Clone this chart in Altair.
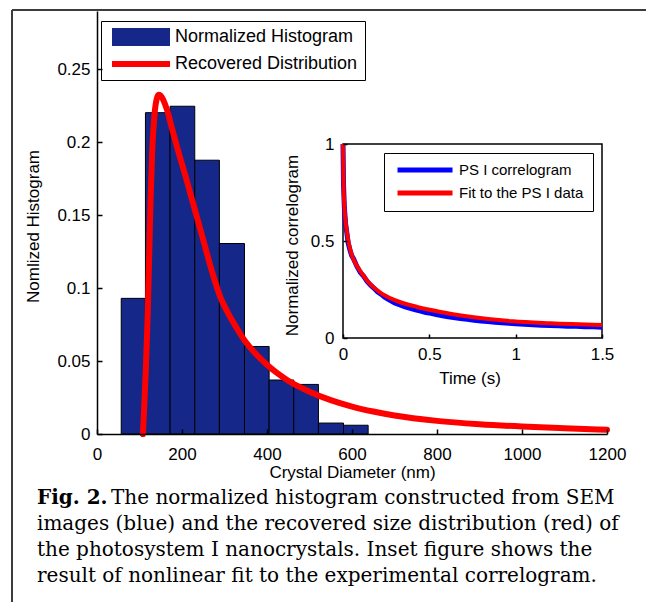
import altair as alt
import pandas as pd

# ---------------- data ----------------
# main histogram (Crystal Diameter, nm)
bin_left = [57, 114, 172, 230, 288, 347, 405, 463, 521, 580]
bin_right = [114, 172, 230, 288, 347, 405, 463, 521, 580, 638]
hist_values = [0.093, 0.2203, 0.2247, 0.1877, 0.1306, 0.060, 0.037, 0.034, 0.0075, 0.006]

# recovered distribution (red curve)
dist_nm = [108, 110, 112, 115, 118, 120, 123, 126, 130, 135, 140, 145, 150, 156, 165,
           176, 190, 210, 230, 250, 270, 290, 310, 330, 350, 375, 400, 425, 450, 500,
           550, 600, 650, 700, 800, 900, 1000, 1100, 1200]
dist_val = [0.0, 0.012, 0.025, 0.045, 0.07, 0.09, 0.125, 0.16, 0.195, 0.218, 0.229,
            0.2325, 0.232, 0.229, 0.222, 0.21, 0.195, 0.175, 0.154, 0.133, 0.112, 0.094,
            0.082, 0.072, 0.063, 0.0545, 0.0475, 0.0415, 0.0365, 0.029, 0.0232, 0.0188,
            0.0154, 0.0127, 0.0090, 0.0067, 0.0051, 0.0039, 0.0029]

# inset: PS I correlogram (blue) and fit (red)
corr_t = [0, 0.003, 0.008, 0.015, 0.021, 0.03, 0.04, 0.05, 0.06, 0.07, 0.08, 0.09, 0.1,
          0.12, 0.14, 0.16, 0.18, 0.2, 0.22, 0.24, 0.26, 0.28, 0.3, 0.33, 0.36, 0.39,
          0.42, 0.45, 0.48, 0.51, 0.54, 0.57, 0.6, 0.64, 0.68, 0.72, 0.76, 0.8, 0.84,
          0.88, 0.92, 0.96, 1.0, 1.05, 1.1, 1.15, 1.2, 1.25, 1.3, 1.35, 1.4, 1.45, 1.5]
corr_v = [1.0, 0.79, 0.67, 0.59, 0.55, 0.49, 0.455, 0.425, 0.41, 0.39, 0.37, 0.355,
          0.338, 0.318, 0.292, 0.272, 0.256, 0.238, 0.226, 0.212, 0.2, 0.191, 0.181,
          0.171, 0.16, 0.153, 0.145, 0.139, 0.131, 0.127, 0.121, 0.116, 0.111, 0.105,
          0.101, 0.096, 0.092, 0.088, 0.085, 0.081, 0.078, 0.076, 0.073, 0.071, 0.068,
          0.066, 0.064, 0.063, 0.061, 0.060, 0.058, 0.058, 0.056]
fit_t = [0, 0.003, 0.008, 0.015, 0.021, 0.031, 0.05, 0.075, 0.1, 0.15, 0.214, 0.3,
         0.43, 0.55, 0.735, 0.985, 1.2, 1.5]
fit_v = [1.0, 0.8, 0.68, 0.6, 0.556, 0.5, 0.43, 0.38, 0.345, 0.285, 0.235, 0.195,
         0.16, 0.137, 0.11, 0.086, 0.076, 0.067]

# axes
main_x_domain = [0, 1200]
main_y_domain = [0, 0.29]
main_x_ticks = [0, 200, 400, 600, 800, 1000, 1200]
main_y_ticks = [0, 0.05, 0.1, 0.15, 0.2, 0.25]
inset_x_domain = [0, 1.5]
inset_y_domain = [0, 1]
inset_x_ticks = [0, 0.5, 1, 1.5]
inset_y_ticks = [0, 0.5, 1]

main_legend_labels = ["Normalized Histogram", "Recovered Distribution"]
inset_legend_labels = ["PS I correlogram", "\u00a0Fit to the PS I data"]

caption_head = "Fig. 2."
caption_lines = [
    "The normalized histogram constructed from SEM",
    "images (blue) and the recovered size distribution (red) of",
    "the photosystem I nanocrystals. Inset figure shows the",
    "result of nonlinear fit to the experimental correlogram.",
]

# ---------------- styling / layout ----------------
NAVY = "#15288a"
RED = "#ff0000"
BLUE = "#0000ff"
SANS = "Liberation Sans"
SERIF = "DejaVu Serif"
W, H = 510, 423
INSET_X_RANGE = [246, 505]
INSET_Y_RANGE = [327, 133]

hist_df = pd.DataFrame({"left": bin_left, "right": bin_right, "value": hist_values})
dist_df = pd.DataFrame({"nm": dist_nm, "val": dist_val})
corr_df = pd.DataFrame({"t": corr_t, "v": corr_v})
fit_df = pd.DataFrame({"t": fit_t, "v": fit_v})
one = pd.DataFrame({"a": [0]})

mxs = alt.Scale(domain=main_x_domain, nice=False, zero=False)
mys = alt.Scale(domain=main_y_domain, nice=False, zero=False)
ixs = alt.Scale(domain=inset_x_domain, range=INSET_X_RANGE, nice=False, zero=False)
iys = alt.Scale(domain=inset_y_domain, range=INSET_Y_RANGE, nice=False, zero=False)

bars = alt.Chart(hist_df).mark_bar(color=NAVY, stroke="black", strokeWidth=1).encode(
    x=alt.X("left:Q", scale=mxs, axis=alt.Axis(
        orient="bottom", values=main_x_ticks, format="d", ticks=False, labelPadding=12,
        title="Crystal Diameter (nm)", titleX=W / 2, titleY=38, titleBaseline="middle",
        zindex=1, domainWidth=1.5)),
    x2="right:Q",
    y=alt.Y("value:Q", scale=mys, axis=alt.Axis(
        orient="left", values=main_y_ticks, format="~g", ticks=False, labelPadding=7,
        title="Nomlized Histogram", titleX=-64, titleY=215, titleBaseline="middle",
        zindex=1, domainWidth=1.5)),
    y2=alt.datum(main_y_domain[0]),
)

dist = alt.Chart(dist_df).mark_line(color=RED, strokeWidth=6, interpolate="monotone",
                                    strokeCap="round").encode(
    x=alt.X("nm:Q", scale=mxs, axis=alt.Axis(
        orient="top", offset=-H, values=main_x_ticks, labels=False, domain=False,
        tickSize=5, title=None, zindex=1)),
    y=alt.Y("val:Q", scale=mys, axis=alt.Axis(
        orient="right", offset=-W, values=main_y_ticks, labels=False, domain=False,
        tickSize=5, title=None, zindex=1)),
)

inset_frame = alt.Chart(one).mark_rect(fill="white", stroke="black", strokeWidth=1.5).encode(
    x=alt.XDatum(inset_x_domain[0], type="quantitative", scale=ixs, axis=None),
    x2=alt.datum(inset_x_domain[1]),
    y=alt.YDatum(inset_y_domain[0], type="quantitative", scale=iys, axis=None),
    y2=alt.datum(inset_y_domain[1]),
)

corr = alt.Chart(corr_df).mark_line(color=BLUE, strokeWidth=5).encode(
    x=alt.X("t:Q", scale=ixs, axis=alt.Axis(
        orient="bottom", offset=-(H - INSET_Y_RANGE[0]), values=inset_x_ticks, format="~g",
        ticks=False, domain=False, labelPadding=8, title="Time (s)",
        titleX=(INSET_X_RANGE[0] + INSET_X_RANGE[1]) / 2 - 3, titleY=40,
        titleBaseline="middle", zindex=1)),
    y=alt.Y("v:Q", scale=iys, axis=alt.Axis(
        orient="left", offset=-INSET_X_RANGE[0], values=inset_y_ticks, format="~g",
        ticks=False, domain=False, labelPadding=9, title="Normalized correlogram",
        titleX=-51, titleY=234, titleBaseline="middle", zindex=1)),
)

fit = alt.Chart(fit_df).mark_line(color=RED, strokeWidth=4, interpolate="monotone").encode(
    x=alt.X("t:Q", scale=ixs, axis=alt.Axis(
        orient="top", offset=-INSET_Y_RANGE[0], values=inset_x_ticks, labels=False,
        domain=False, tickSize=4, title=None, zindex=1)),
    y=alt.Y("v:Q", scale=iys, axis=alt.Axis(
        orient="right", offset=-(W - INSET_X_RANGE[0]), values=inset_y_ticks, labels=False,
        domain=False, tickSize=4, title=None, zindex=1)),
)

rect_path = "M-0.556,-1L5.89,-1L5.89,1L-0.556,1Z"
line_path = "M-0.556,-0.33L5.89,-0.33L5.89,0.33L-0.556,0.33Z"
main_leg = dict(title=None, orient="none", legendX=4, legendY=10, padding=7,
                strokeColor="black", fillColor="white", labelFont=SANS, labelFontSize=18,
                labelColor="black", labelLimit=400, labelOffset=49, rowPadding=9,
                symbolSize=324, symbolStrokeWidth=0, symbolOffset=0, symbolOpacity=1)
main_legend = alt.Chart(pd.DataFrame({"label": main_legend_labels})).mark_point(
    filled=True, opacity=1).encode(
    color=alt.Color("label:N", scale=alt.Scale(domain=main_legend_labels, range=[NAVY, RED]),
                    legend=alt.Legend(**main_leg)),
    shape=alt.Shape("label:N", scale=alt.Scale(domain=main_legend_labels,
                                               range=[rect_path, line_path]),
                    legend=alt.Legend(**main_leg)),
).transform_filter("false")

inset_path = "M-0.5,-0.36L7.36,-0.36L7.36,0.36L-0.5,0.36Z"
inset_legend = alt.Chart(pd.DataFrame({"label": inset_legend_labels})).mark_point(
    filled=True, opacity=1).encode(
    color=alt.Color("label:N", scale=alt.Scale(domain=inset_legend_labels, range=[BLUE, RED]),
                    legend=alt.Legend(
                        title=None, orient="none", legendX=287, legendY=142, padding=9.5,
                        strokeColor="black", fillColor="white", labelFont=SANS,
                        labelFontSize=15, labelColor="black", labelLimit=400,
                        labelOffset=50.5, rowPadding=7, symbolSize=196,
                        symbolStrokeWidth=0, symbolOffset=0, symbolType=inset_path,
                        symbolOpacity=1)),
).transform_filter("false")

frame_top = alt.Chart(one).mark_rule(color="#3c3c3c", strokeWidth=2).encode(
    x=alt.value(-85), x2=alt.value(560), y=alt.value(-1))
frame_left = alt.Chart(one).mark_rule(color="#3c3c3c", strokeWidth=2).encode(
    x=alt.value(-85), y=alt.value(-1), y2=alt.value(595))

cap_head = alt.Chart(one).mark_text(align="left", baseline="alphabetic", font=SERIF,
                                    fontSize=20, fontWeight="bold", color="black").encode(
    x=alt.value(-60), y=alt.value(493), text=alt.value(caption_head))
cap_first = alt.Chart(one).mark_text(align="left", baseline="alphabetic", font=SERIF,
                                     fontSize=20, color="black").encode(
    x=alt.value(14), y=alt.value(493), text=alt.value(caption_lines[0]))
cap_rest = alt.Chart(one).mark_text(align="left", baseline="alphabetic", font=SERIF,
                                    fontSize=20, lineHeight=26, color="black").encode(
    x=alt.value(-60), y=alt.value(519), text=alt.value(caption_lines[1:]))

chart = alt.layer(
    bars, dist, inset_frame, corr, fit, main_legend, inset_legend,
    frame_top, frame_left, cap_head, cap_first, cap_rest,
).resolve_scale(
    x="independent", y="independent", color="independent", shape="independent"
).resolve_axis(x="independent", y="independent").resolve_legend(
    color="independent", shape="independent"
).properties(
    width=W, height=H,
    autosize=alt.AutoSizeParams(type="none"),
    padding={"left": 89, "top": 3, "right": 39, "bottom": 168},
).configure_view(stroke=None).configure_axis(
    labelFont=SANS, labelFontSize=17, labelColor="black", titleFont=SANS,
    titleFontSize=17, titleFontWeight="normal", titleColor="black", domainColor="black",
    tickColor="black", tickWidth=1.5, grid=False, labelFlush=False, labelOverlap=False,
)

chart.save("out.html", embed_options={"renderer": "svg", "actions": False})
